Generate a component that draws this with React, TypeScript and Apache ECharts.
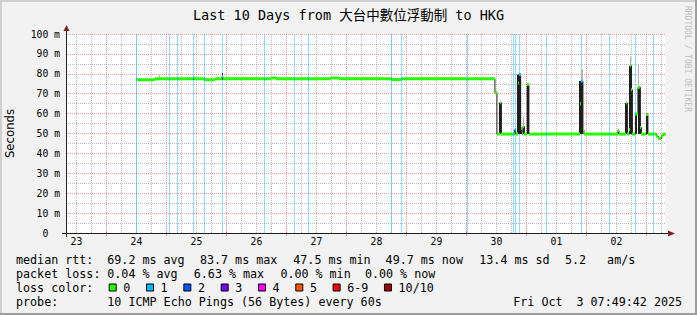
import React, { useEffect, useRef } from "react";
import * as echarts from "echarts";

// hours since Sep 23 00:00 (local)
const START_H = 7.828; // Sep 23 07:49:42
const END_H = 247.828; // Oct 3 07:49:42

const dayLabels = ["23", "24", "25", "26", "27", "28", "29", "30", "01", "02"];
const dayLabelHours = [12, 36, 60, 84, 108, 132, 156, 180, 204, 228];

// median RTT samples (start hour, ms, lost pings)
const medHours = [36.0, 36.4, 43.4, 49.0, 49.4, 52.2, 52.6, 58.6, 59.0, 63.0, 63.4, 67.6, 70.2, 70.6, 87.0, 87.4, 89.8, 91.8, 99.0, 99.4, 104.6, 105.0, 113.8, 117.0, 137.8, 138.2, 141.8, 142.2, 168.2, 168.6, 179.4, 180.2, 181.4, 182.0, 186.6, 187.0, 187.3, 187.7, 188.6, 189.1, 189.7, 190.1, 190.6, 191.2, 192.3, 193.0, 199.8, 200.2, 213.4, 214.0, 214.6, 215.0, 225.0, 225.4, 228.6, 229.0, 231.8, 232.4, 233.2, 233.6, 234.0, 234.4, 235.6, 236.0, 236.6, 237.6, 238.0, 240.0, 240.6, 242.6, 243.0, 244.0, 244.8, 246.0, 246.8];
const medValues = [77.2, 77.0, 77.5, 77.4, 77.5, 77.4, 77.5, 78.0, 77.5, 77.3, 77.0, 77.5, 78.6, 77.5, 77.4, 77.5, 77.9, 77.5, 77.4, 77.5, 77.4, 77.5, 77.9, 77.5, 77.4, 77.1, 77.4, 77.5, 77.4, 77.5, 70.5, 49.7, 65.4, 49.7, 49.7, 49.7, 51.9, 49.7, 75.4, 79.6, 52.5, 49.7, 53.5, 49.7, 74.6, 49.7, 49.7, 49.7, 65.0, 76.4, 52.0, 49.7, 49.7, 49.7, 51.5, 49.7, 65.3, 49.7, 52.0, 84.0, 72.0, 49.7, 59.8, 59.8, 73.2, 53.0, 49.7, 59.5, 49.7, 49.7, 49.7, 48.6, 47.5, 48.8, 49.7];
const medLoss = [1, 0, 0, 1, 0, 1, 0, 1, 0, 1, 0, 0, 1, 0, 1, 0, 0, 0, 1, 0, 1, 0, 0, 0, 1, 0, 1, 0, 1, 0, 0, 0, 0, 0, 1, 0, 1, 0, 0, 1, 0, 0, 0, 0, 0, 0, 1, 0, 0, 1, 0, 0, 1, 0, 0, 0, 0, 0, 0, 0, 0, 0, 1, 0, 0, 0, 0, 0, 0, 1, 0, 0, 0, 0, 0];

// dark smoke (ping spread)
const smokeFrom = [58.6, 70.2, 181.2, 188.4, 189.7, 190.6, 192.1, 213.2, 228.6, 231.6, 233.2, 235.4, 236.6, 237.6, 239.9];
const smokeTo = [59.0, 70.6, 182.0, 189.7, 190.1, 191.2, 193.0, 214.6, 229.0, 232.4, 234.4, 236.4, 237.6, 238.0, 240.6];
const smokeLow = [77.0, 77.0, 49.7, 49.7, 49.7, 49.7, 49.7, 49.7, 49.7, 49.7, 49.7, 49.7, 49.7, 49.7, 49.7];
const smokeHigh = [78.5, 80.4, 65.4, 79.6, 52.5, 53.5, 74.6, 76.4, 51.5, 65.3, 84.0, 59.8, 73.2, 53.0, 59.5];
// light smoke (outlier pings)
const lightFrom = [45.2, 190.6, 214.0, 233.6, 236.6];
const lightTo = [45.6, 191.2, 214.6, 234.0, 237.2];
const lightLow = [77.5, 53.5, 76.4, 84.0, 73.2];
const lightHigh = [79.5, 58.5, 82.3, 88.5, 85.0];

const lossColors = ["#26ff00", "#00b8ff", "#0059ff", "#7e00ff", "#ff00ff", "#ff5500", "#ff0000", "#a10000"];
const lossLabels = ["0", "1", "2", "3", "4", "5", "6-9", "10/10"];

const rttValues = ["69.2", "83.7", "47.5", "49.7", "13.4"];
const rttUnits = ["ms avg", "ms max", "ms min", "ms now", "ms sd"];
const amsValue = "5.2";
const lossValues = ["0.04", "6.63", "0.00", "0.00"];
const lossWords = ["% avg", "% max", "% min", "% now"];
const probeText = "10 ICMP Echo Pings (56 Bytes) every 60s";
const dateText = ["Fri Oct", "3 07:49:42 2025"];
const titleText = "Last 10 Days from 大台中數位浮動制 to HKG";

const MONO = "'DejaVu Sans Mono', 'Noto Sans CJK TC', monospace";
const MGRID = "rgba(222,79,79,0.6)";
const GRID = "rgba(143,143,143,0.6)";

function txt(x: number, y: number, text: string, size = 11.7, extra: any = {}) {
  return {
    type: "text",
    x,
    y,
    z: 50,
    silent: true,
    style: {
      text,
      font: `${size}px ${MONO}`,
      fill: "#000",
      textAlign: "left",
      textVerticalAlign: "middle",
      align: "left",
      verticalAlign: "middle",
      ...extra,
    },
  };
}

function buildOption() {
  const n = medHours.length;
  const bandData = medHours.map((h, i) => [h, i < n - 1 ? medHours[i + 1] : END_H, medValues[i], medLoss[i]]);
  const lineData = medHours.map((h, i) => [h, medValues[i]]);
  lineData.push([END_H, medValues[n - 1]]);
  const lossBg = bandData.filter((d) => d[3] > 0).map((d) => [d[0], d[1]]);
  const darkSmoke = smokeFrom.map((h, i) => [h, smokeTo[i], smokeLow[i], smokeHigh[i]]);
  const lightSmokeData = lightFrom.map((h, i) => [h, lightTo[i], lightLow[i], lightHigh[i]]);

  const gridHours: number[][] = [];
  for (let h = Math.ceil(START_H / 6) * 6; h < END_H; h += 6) gridHours.push([h, h % 24 === 0 ? 1 : 0]);

  const rectItem = (color: string) => (params: any, api: any) => {
    const p0 = api.coord([api.value(0), api.value(3)]);
    const p1 = api.coord([api.value(1), api.value(2)]);
    const x0 = Math.round(p0[0]);
    const x1 = Math.max(x0 + 1, Math.round(p1[0]));
    return {
      type: "rect",
      shape: { x: x0, y: p0[1], width: x1 - x0, height: p1[1] - p0[1] },
      style: { fill: color },
    };
  };

  const g: any[] = [];
  // frame shading
  g.push({ type: "rect", z: 40, silent: true, shape: { x: 0, y: 0, width: 697, height: 2 }, style: { fill: "#cfcfcf" } });
  g.push({ type: "rect", z: 40, silent: true, shape: { x: 0, y: 0, width: 2, height: 315 }, style: { fill: "#cfcfcf" } });
  g.push({ type: "rect", z: 41, silent: true, shape: { x: 0, y: 313, width: 697, height: 2 }, style: { fill: "#9e9e9e" } });
  g.push({ type: "rect", z: 41, silent: true, shape: { x: 695, y: 0, width: 2, height: 315 }, style: { fill: "#9e9e9e" } });
  // axes + arrows
  g.push({ type: "line", z: 60, silent: true, shape: { x1: 62, y1: 233.5, x2: 669, y2: 233.5 }, style: { stroke: "#1f1f1f", lineWidth: 1 } });
  g.push({ type: "line", z: 60, silent: true, shape: { x1: 66.5, y1: 237, x2: 66.5, y2: 30 }, style: { stroke: "#1f1f1f", lineWidth: 1 } });
  g.push({ type: "polygon", z: 61, silent: true, shape: { points: [[668, 230.5], [675, 233.5], [668, 236.5]] }, style: { fill: "#801f1f" } });
  g.push({ type: "polygon", z: 61, silent: true, shape: { points: [[63.5, 31], [66.5, 25], [69.5, 31]] }, style: { fill: "#801f1f" } });
  // title
  g.push(txt(348.5, 15, titleText, 13.5, { textAlign: "center", align: "center" }));
  // watermark
  g.push({
    type: "text", x: 687, y: 59, rotation: -Math.PI / 2, z: 50, silent: true,
    style: { text: "RRDTOOL / TOBI OETIKER", font: `8px ${MONO}`, fill: "#bdbdbd", textAlign: "center", align: "center", textVerticalAlign: "middle", verticalAlign: "middle" },
  });
  const CW = 7.02;
  const y1 = 259.5, y2 = 273.5, y3 = 287.5, y4 = 301.5;
  // line 1
  g.push(txt(16, y1, "median rtt:"));
  const rttX = [107.3, 200, 293.3, 385.6, 479.3];
  rttValues.forEach((v, i) => {
    g.push(txt(rttX[i], y1, v));
    g.push(txt(rttX[i] + 5 * CW, y1, rttUnits[i]));
  });
  g.push(txt(565, y1, amsValue));
  g.push(txt(565 + 6 * CW, y1, "am/s"));
  // line 2
  g.push(txt(16, y2, "packet loss:"));
  const lossX = [107.3, 193.8, 280.4, 365];
  lossValues.forEach((v, i) => {
    g.push(txt(lossX[i], y2, v));
    g.push(txt(lossX[i] + 5 * CW, y2, lossWords[i]));
  });
  // line 3
  g.push(txt(16, y3, "loss color:"));
  let lx = 108.7;
  lossLabels.forEach((lab, i) => {
    g.push({ type: "rect", z: 50, silent: true, shape: { x: lx + 0.5, y: y3 - 3.5, width: 7, height: 7 }, style: { fill: lossColors[i], stroke: "#000", lineWidth: 1 } });
    g.push(txt(lx + 14.6, y3, lab));
    lx = lx + 14.6 + lab.length * CW + 15.7;
  });
  // line 4
  g.push(txt(16, y4, "probe:"));
  g.push(txt(107.3, y4, probeText));
  g.push(txt(513.3, y4, dateText[0]));
  g.push(txt(513.3 + 9 * CW, y4, dateText[1]));

  return {
    animation: false,
    backgroundColor: "#f2f2f2",
    grid: {
      left: 66, top: 34, width: 600, height: 199,
      show: true, backgroundColor: "#ffffff", borderWidth: 0,
      containLabel: false, outerBoundsMode: "none",
    },
    xAxis: {
      type: "value", min: START_H, max: END_H,
      axisLine: { show: false }, axisTick: { show: false }, splitLine: { show: false },
      axisLabel: {
        customValues: dayLabelHours,
        formatter: (v: number) => dayLabels[Math.round((v - 12) / 24)] ?? "",
        fontFamily: MONO, fontSize: 9.75, color: "#000", margin: 4,
      },
    },
    yAxis: {
      type: "value", min: 0, max: 100, interval: 10,
      name: "Seconds", nameLocation: "middle", nameRotate: 90, nameGap: 50,
      nameTextStyle: { fontFamily: "'DejaVu Sans'", fontSize: 11.7, color: "#000" },
      axisLine: { show: false }, axisTick: { show: false },
      axisLabel: {
        formatter: (v: number) => (v === 0 ? "0\u00a0\u00a0" : `${v} m`),
        fontFamily: MONO, fontSize: 9.75, color: "#000", margin: 6,
      },
      splitLine: { show: true, lineStyle: { color: MGRID, type: [1, 1], width: 1 } },
      minorTick: { show: false, splitNumber: 2 },
      minorSplitLine: { show: true, lineStyle: { color: GRID, type: [1, 1], width: 1 } },
    },
    graphic: { elements: g },
    series: [
      {
        type: "custom", name: "grid", silent: true, z: 1,
        data: gridHours,
        encode: { x: 0 },
        renderItem: (params: any, api: any) => {
          const h = api.value(0);
          const major = api.value(1) === 1;
          const top = api.coord([h, 100]);
          const bot = api.coord([h, 0]);
          const x = Math.round(top[0]) + 0.5;
          const children: any[] = [
            { type: "line", shape: { x1: x, y1: top[1], x2: x, y2: bot[1] }, style: { stroke: major ? MGRID : GRID, lineWidth: 1, lineDash: [1, 1] } },
          ];
          if (major) children.push({ type: "line", shape: { x1: x, y1: bot[1] - 2, x2: x, y2: bot[1] + 3 }, style: { stroke: MGRID, lineWidth: 1 } });
          return { type: "group", children };
        },
      },
      {
        type: "custom", name: "lossbg", silent: true, z: 2,
        data: lossBg,
        encode: { x: [0, 1] },
        renderItem: (params: any, api: any) => {
          const p0 = api.coord([api.value(0), 100]);
          const p1 = api.coord([api.value(0), 0]);
          const x0 = Math.round(p0[0]);
          return { type: "rect", shape: { x: x0, y: p0[1], width: 1, height: p1[1] - p0[1] }, style: { fill: "rgba(0,184,255,0.45)" } };
        },
      },
      {
        type: "custom", name: "smoke-light", silent: true, z: 3,
        data: lightSmokeData, encode: { x: [0, 1], y: [2, 3] },
        renderItem: rectItem("#b4b4b4"),
      },
      {
        type: "custom", name: "smoke", silent: true, z: 4,
        data: darkSmoke, encode: { x: [0, 1], y: [2, 3] },
        renderItem: rectItem("#1e1e1e"),
      },
      {
        type: "line", name: "median", silent: true, z: 5,
        data: lineData, step: "end", showSymbol: false, symbol: "none",
        lineStyle: { color: "#202020", width: 1 },
      },
      {
        type: "custom", name: "median-loss", silent: true, z: 6,
        data: bandData, encode: { x: [0, 1], y: 2 },
        renderItem: (params: any, api: any) => {
          const p0 = api.coord([api.value(0), api.value(2)]);
          const p1 = api.coord([api.value(1), api.value(2)]);
          const x0 = Math.round(p0[0]);
          const x1 = Math.max(x0 + 1, Math.round(p1[0]));
          return {
            type: "rect",
            shape: { x: x0, y: p0[1] - 1.5, width: x1 - x0, height: 3 },
            style: { fill: lossColors[api.value(3)] },
          };
        },
      },
    ],
  };
}

export default function App() {
  const ref = useRef<HTMLDivElement>(null);
  useEffect(() => {
    const chart = echarts.init(ref.current!, null, { renderer: "svg" });
    chart.setOption(buildOption() as any);
    return () => chart.dispose();
  }, []);
  return <div ref={ref} style={{ position: "fixed", left: 0, top: 0, width: 697, height: 315 }} />;
}
